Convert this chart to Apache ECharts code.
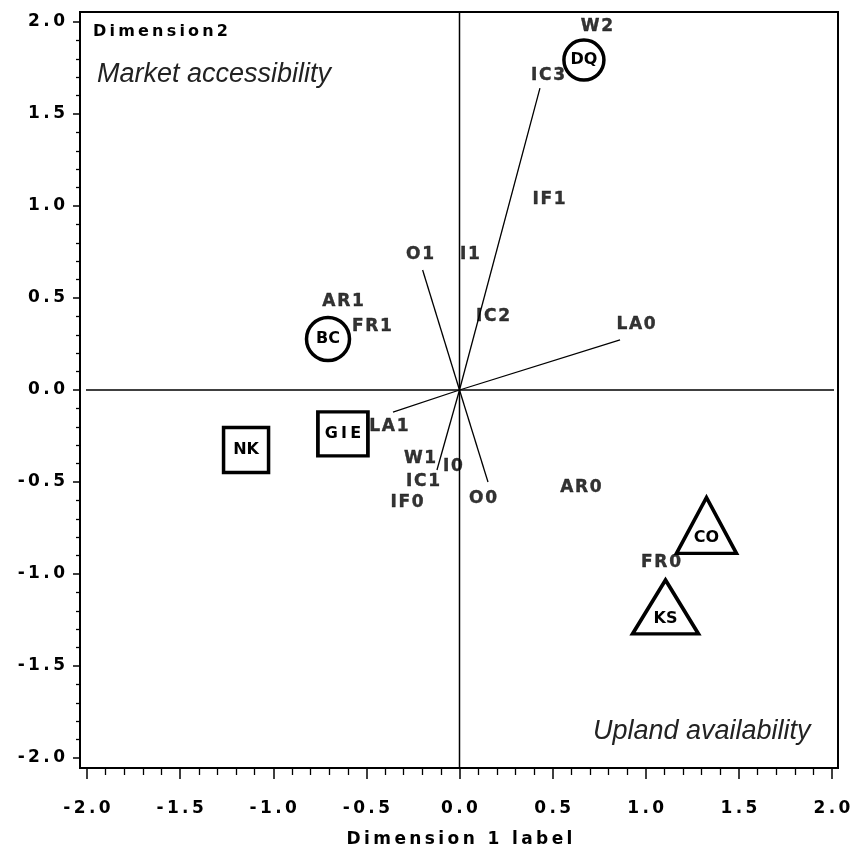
<!DOCTYPE html>
<html>
<head>
<meta charset="utf-8">
<title>Dimension plot</title>
<script src="https://cdn.jsdelivr.net/npm/echarts@6/dist/echarts.min.js"></script>
<style>
  html, body { margin: 0; padding: 0; background: #fff; }
  #chart { width: 860px; height: 849px; }
</style>
</head>
<body>
<div id="chart"></div>
<script>
// category labels (variable levels)
const varNames = ['W2', 'IC3', 'IF1', 'O1', 'I1', 'IC2', 'LA0', 'AR1', 'FR1', 'LA1', 'W1', 'I0', 'IC1', 'IF0', 'O0', 'AR0', 'FR0']
const varX = [0.738, 0.475, 0.481, -0.212, 0.056, 0.180, 0.948, -0.625, -0.470, -0.379, -0.212, -0.035, -0.196, -0.282, 0.126, 0.652, 1.082]
const varY = [1.973, 1.707, 1.033, 0.734, 0.734, 0.397, 0.353, 0.478, 0.342, -0.201, -0.370, -0.418, -0.500, -0.614, -0.592, -0.533, -0.940]

// vectors drawn from the origin
const vecNames = ['IC3', 'O1', 'LA0', 'LA1', 'IC1', 'O0']
const vecX = [0.432, -0.198, 0.862, -0.357, -0.121, 0.153]
const vecY = [1.641, 0.652, 0.272, -0.120, -0.435, -0.500]

// groups of units
const circleNames = ['BC', 'DQ']
const circleX = [-0.706, 0.668]
const circleY = [0.277, 1.793]

const squareNames = ['NK', 'GIE']
const squareX = [-1.146, -0.626]
const squareY = [-0.326, -0.239]

const triangleNames = ['CO', 'KS']
const triangleX = [1.326, 1.106]
const triangleY = [-0.736, -1.179]

// frame edges in data units (frame sits a little outside the -2..2 ticks)
const frameX = [-2.0376, 2.0322]
const frameY = [-2.0543, 2.0543]

const BOLD = '"DejaVu Sans", sans-serif'
const ITALIC = 'italic 27px "Liberation Sans", Arial, sans-serif'

// the SAS font is widely spaced, so put thin spaces between letters
const spaced = s => String(s).split('').join('\u2009')
const hair = s => String(s).split('').join('\u200A')

const chart = echarts.init(document.getElementById('chart'), null, { renderer: 'canvas' })

const textPoints = (names, xs, ys) => names.map((n, i) => ({ name: n, value: [xs[i], ys[i]] }))

// symbol sizes per unit
const symbolSizes = {
  BC: 43, DQ: 40,
  NK: [45, 45], GIE: [50, 44],
  CO: [60, 56], KS: [66, 54]
}

const shapeSeries = (names, xs, ys, symbol, labelOffset) => ({
  type: 'scatter',
  symbol: symbol,
  symbolSize: (val, p) => symbolSizes[p.name],
  data: textPoints(names, xs, ys),
  itemStyle: { color: '#fff', borderColor: '#000', borderWidth: 3.5, opacity: 1 },
  label: {
    show: true,
    position: 'inside',
    offset: labelOffset,
    formatter: p => p.name === 'GIE' ? spaced(p.name) : p.name,
    color: '#000',
    fontFamily: BOLD,
    fontWeight: 'bold',
    fontSize: 16
  },
  emphasis: { disabled: true },
  z: 5
})

const option = {
  animation: false,
  backgroundColor: '#fff',
  grid: [
    { left: 87, top: 22, width: 745, height: 736, show: false, outerBoundsMode: 'none', containLabel: false },
    { left: 80, top: 12, width: 758, height: 756, show: true, borderColor: '#000', borderWidth: 2, backgroundColor: 'transparent', z: 10, outerBoundsMode: 'none' }
  ],
  xAxis: [
    {
      gridIndex: 0,
      type: 'value',
      min: -2,
      max: 2,
      interval: 0.5,
      position: 'bottom',
      offset: 10,
      axisLine: { show: false, onZero: false },
      axisTick: { show: true, length: 11, lineStyle: { color: '#000', width: 1.5 } },
      minorTick: { show: true, splitNumber: 5, length: 7, lineStyle: { color: '#000', width: 1.3 } },
      splitLine: { show: false },
      axisLabel: {
        margin: 32,
        formatter: v => spaced(v.toFixed(1)),
        color: '#000',
        fontFamily: BOLD,
        fontWeight: 'bold',
        fontSize: 17
      },
      name: spaced('Dimension 1 label'),
      nameLocation: 'middle',
      nameGap: 63,
      nameTextStyle: { color: '#000', fontFamily: BOLD, fontWeight: 'bold', fontSize: 17 }
    },
    { gridIndex: 1, type: 'value', min: 0, max: 1, show: false }
  ],
  yAxis: [
    {
      gridIndex: 0,
      type: 'value',
      min: -2,
      max: 2,
      interval: 0.5,
      position: 'left',
      offset: 7,
      axisLine: { show: false, onZero: false },
      axisTick: { show: true, length: 7, lineStyle: { color: '#000', width: 1.5 } },
      minorTick: { show: true, splitNumber: 5, length: 4, lineStyle: { color: '#000', width: 1.3 } },
      splitLine: { show: false },
      axisLabel: {
        margin: 15,
        formatter: v => spaced(v.toFixed(1)),
        color: '#000',
        fontFamily: BOLD,
        fontWeight: 'bold',
        fontSize: 17
      }
    },
    { gridIndex: 1, type: 'value', min: 0, max: 1, show: false }
  ],
  graphic: [
    {
      type: 'text', left: 93, top: 24, z: 20,
      style: { text: spaced('Dimension2'), font: 'bold 16px ' + BOLD, fill: '#000' }
    },
    {
      type: 'text', left: 97, top: 61, z: 20,
      style: { text: 'Market accessibility', font: ITALIC, fill: '#222' }
    },
    {
      type: 'text', left: 593, top: 718, z: 20,
      style: { text: 'Upland availability', font: ITALIC, fill: '#222' }
    }
  ],
  series: [
    // reference lines through the origin, running to the frame
    {
      type: 'line',
      data: [[frameX[0], 0], [frameX[1], 0]],
      clip: false,
      symbol: 'none',
      lineStyle: { color: '#000', width: 1.5 },
      silent: true
    },
    {
      type: 'line',
      data: [[0, frameY[0]], [0, frameY[1]]],
      clip: false,
      symbol: 'none',
      lineStyle: { color: '#000', width: 1.5 },
      silent: true
    },
    {
      type: 'lines',
      coordinateSystem: 'cartesian2d',
      data: vecNames.map((n, i) => ({ name: n, coords: [[0, 0], [vecX[i], vecY[i]]] })),
      lineStyle: { color: '#000', width: 1.3, opacity: 1 },
      silent: true
    },
    {
      type: 'scatter',
      symbolSize: 1,
      data: textPoints(varNames, varX, varY),
      itemStyle: { color: 'rgba(0,0,0,0)' },
      label: {
        show: true,
        position: 'inside',
        formatter: p => hair(p.name),
        color: '#000',
        fontFamily: BOLD,
        fontWeight: 'bold',
        fontSize: 17,
        textBorderColor: '#000',
        textBorderWidth: 0.4
      },
      emphasis: { disabled: true },
      z: 4
    },
    shapeSeries(circleNames, circleX, circleY, 'circle', [0, 0]),
    shapeSeries(squareNames, squareX, squareY, 'rect', [0, 0]),
    shapeSeries(triangleNames, triangleX, triangleY, 'triangle', [0, 12])
  ]
}

chart.setOption(option)
</script>
</body>
</html>
